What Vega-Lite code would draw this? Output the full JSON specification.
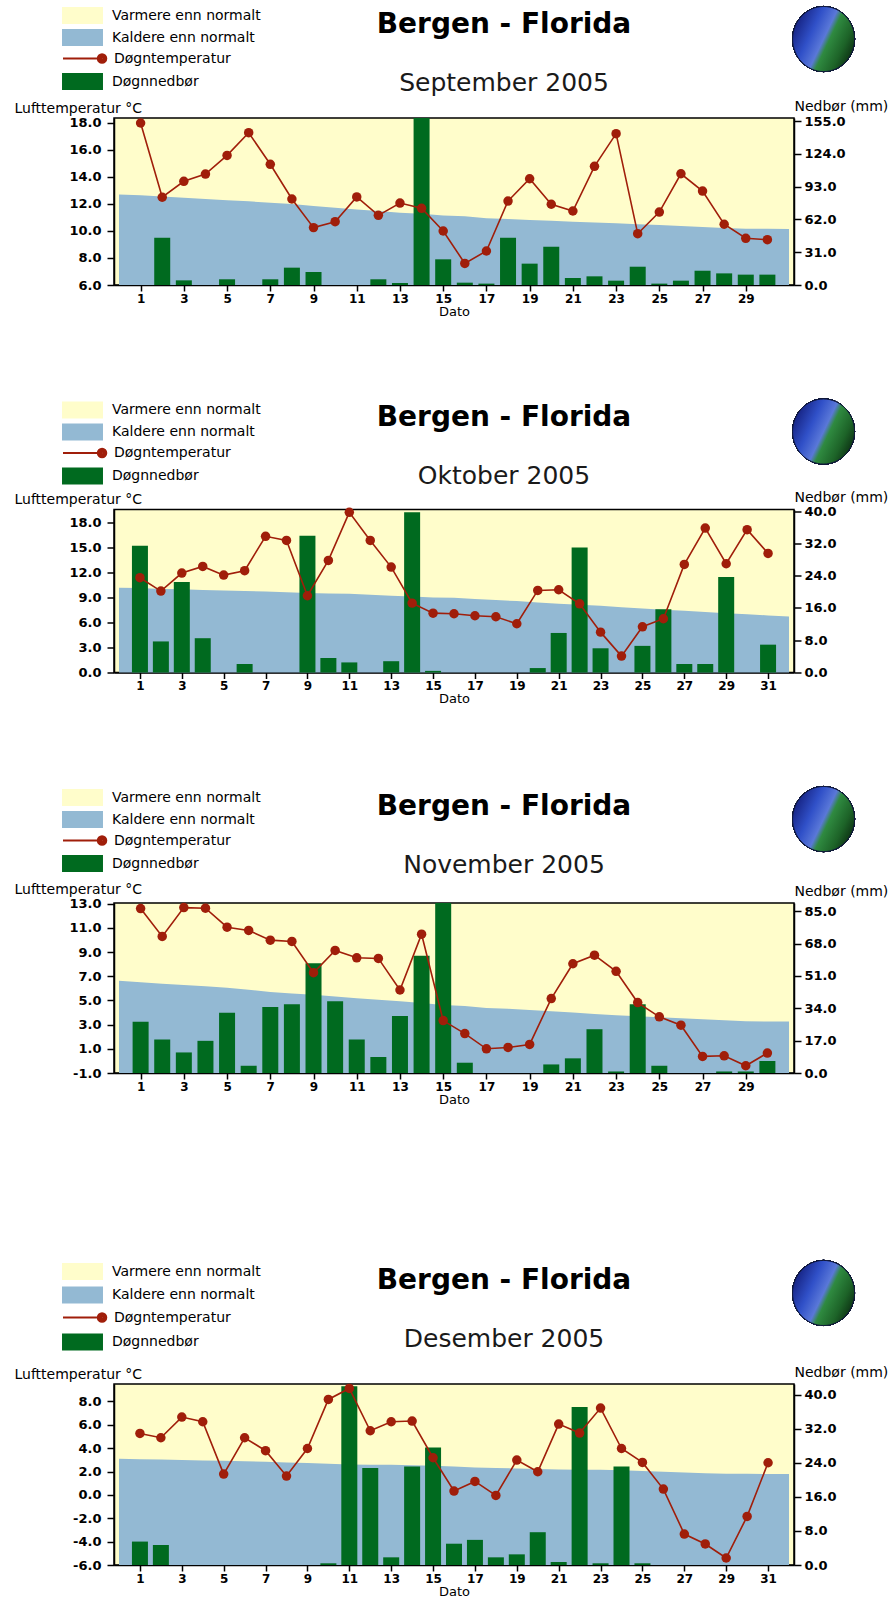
{
  "$schema": "https://vega.github.io/schema/vega-lite/v6.json",
  "padding": {"left": 13, "top": 3, "right": 0, "bottom": 0},
  "background": "#ffffff",
  "datasets": {
    "sep": [
      {"d": 0, "n": 12.7},
      {"d": 1, "n": 12.65, "t": 18.0, "p": 0},
      {"d": 2, "n": 12.55, "t": 12.5, "p": 44.7},
      {"d": 3, "n": 12.47, "t": 13.68, "p": 4.4},
      {"d": 4, "n": 12.37, "t": 14.22, "p": 0},
      {"d": 5, "n": 12.27, "t": 15.6, "p": 5.4},
      {"d": 6, "n": 12.2, "t": 17.28, "p": 0},
      {"d": 7, "n": 12.1, "t": 14.94, "p": 5.4},
      {"d": 8, "n": 12.0, "t": 12.37, "p": 16.4},
      {"d": 9, "n": 11.85, "t": 10.25, "p": 12.3},
      {"d": 10, "n": 11.72, "t": 10.69, "p": 0},
      {"d": 11, "n": 11.6, "t": 12.52, "p": 0},
      {"d": 12, "n": 11.48, "t": 11.16, "p": 5.4},
      {"d": 13, "n": 11.36, "t": 12.07, "p": 1.9},
      {"d": 14, "n": 11.28, "t": 11.68, "p": 158},
      {"d": 15, "n": 11.15, "t": 10.0, "p": 24.3},
      {"d": 16, "n": 11.09, "t": 7.6, "p": 2.2},
      {"d": 17, "n": 10.94, "t": 8.52, "p": 1.3},
      {"d": 18, "n": 10.88, "t": 12.22, "p": 44.7},
      {"d": 19, "n": 10.81, "t": 13.87, "p": 20.2},
      {"d": 20, "n": 10.75, "t": 11.98, "p": 36.2},
      {"d": 21, "n": 10.69, "t": 11.48, "p": 6.6},
      {"d": 22, "n": 10.63, "t": 14.79, "p": 8.2},
      {"d": 23, "n": 10.57, "t": 17.21, "p": 4.1},
      {"d": 24, "n": 10.5, "t": 9.8, "p": 17.3},
      {"d": 25, "n": 10.44, "t": 11.4, "p": 1.3},
      {"d": 26, "n": 10.37, "t": 14.24, "p": 4.1},
      {"d": 27, "n": 10.3, "t": 12.96, "p": 13.5},
      {"d": 28, "n": 10.23, "t": 10.5, "p": 11.0},
      {"d": 29, "n": 10.17, "t": 9.46, "p": 9.8},
      {"d": 30, "n": 10.17, "t": 9.36, "p": 9.8},
      {"d": 31, "n": 10.15}
    ],
    "okt": [
      {"d": 0, "n": 10.15},
      {"d": 1, "n": 10.1, "t": 11.34, "p": 31.4},
      {"d": 2, "n": 10.0, "t": 9.74, "p": 7.7},
      {"d": 3, "n": 9.95, "t": 11.9, "p": 22.4},
      {"d": 4, "n": 9.88, "t": 12.69, "p": 8.5},
      {"d": 5, "n": 9.82, "t": 11.65, "p": 0},
      {"d": 6, "n": 9.76, "t": 12.18, "p": 2.1},
      {"d": 7, "n": 9.7, "t": 16.29, "p": 0},
      {"d": 8, "n": 9.6, "t": 15.8, "p": 0},
      {"d": 9, "n": 9.5, "t": 9.18, "p": 33.9},
      {"d": 10, "n": 9.46, "t": 13.41, "p": 3.6},
      {"d": 11, "n": 9.42, "t": 19.16, "p": 2.5},
      {"d": 12, "n": 9.3, "t": 15.8, "p": 0},
      {"d": 13, "n": 9.18, "t": 12.61, "p": 2.8},
      {"d": 14, "n": 9.08, "t": 8.3, "p": 39.7},
      {"d": 15, "n": 8.98, "t": 7.1, "p": 0.4},
      {"d": 16, "n": 8.94, "t": 7.03, "p": 0},
      {"d": 17, "n": 8.78, "t": 6.79, "p": 0},
      {"d": 18, "n": 8.66, "t": 6.67, "p": 0},
      {"d": 19, "n": 8.54, "t": 5.83, "p": 0},
      {"d": 20, "n": 8.38, "t": 9.82, "p": 1.1},
      {"d": 21, "n": 8.22, "t": 9.9, "p": 9.8},
      {"d": 22, "n": 8.1, "t": 8.22, "p": 31.0},
      {"d": 23, "n": 7.99, "t": 4.83, "p": 6.0},
      {"d": 24, "n": 7.82, "t": 1.96, "p": 0},
      {"d": 25, "n": 7.66, "t": 5.47, "p": 6.6},
      {"d": 26, "n": 7.52, "t": 6.43, "p": 15.7},
      {"d": 27, "n": 7.39, "t": 12.93, "p": 2.1},
      {"d": 28, "n": 7.25, "t": 17.28, "p": 2.1},
      {"d": 29, "n": 7.1, "t": 13.01, "p": 23.7},
      {"d": 30, "n": 6.96, "t": 17.09, "p": 0},
      {"d": 31, "n": 6.83, "t": 14.25, "p": 6.9},
      {"d": 32, "n": 6.71}
    ],
    "nov": [
      {"d": 0, "n": 6.63},
      {"d": 1, "n": 6.5, "t": 12.59, "p": 26.9},
      {"d": 2, "n": 6.38, "t": 10.29, "p": 17.6},
      {"d": 3, "n": 6.27, "t": 12.67, "p": 10.8},
      {"d": 4, "n": 6.16, "t": 12.62, "p": 16.9},
      {"d": 5, "n": 6.05, "t": 11.05, "p": 31.6},
      {"d": 6, "n": 5.88, "t": 10.78, "p": 3.8},
      {"d": 7, "n": 5.7, "t": 9.98, "p": 34.7},
      {"d": 8, "n": 5.58, "t": 9.87, "p": 36.1},
      {"d": 9, "n": 5.47, "t": 7.29, "p": 57.6},
      {"d": 10, "n": 5.32, "t": 9.13, "p": 37.7},
      {"d": 11, "n": 5.18, "t": 8.52, "p": 17.6},
      {"d": 12, "n": 5.05, "t": 8.47, "p": 8.4},
      {"d": 13, "n": 4.93, "t": 5.86, "p": 30.0},
      {"d": 14, "n": 4.78, "t": 10.47, "p": 61.6},
      {"d": 15, "n": 4.63, "t": 3.33, "p": 89.3},
      {"d": 16, "n": 4.54, "t": 2.26, "p": 5.4},
      {"d": 17, "n": 4.38, "t": 1.0, "p": 0},
      {"d": 18, "n": 4.3, "t": 1.11, "p": 0},
      {"d": 19, "n": 4.21, "t": 1.36, "p": 0},
      {"d": 20, "n": 4.1, "t": 5.15, "p": 4.5},
      {"d": 21, "n": 3.99, "t": 8.03, "p": 7.7},
      {"d": 22, "n": 3.88, "t": 8.74, "p": 23.0},
      {"d": 23, "n": 3.78, "t": 7.4, "p": 0.8},
      {"d": 24, "n": 3.7, "t": 4.82, "p": 36.1},
      {"d": 25, "n": 3.61, "t": 3.64, "p": 3.8},
      {"d": 26, "n": 3.53, "t": 2.95, "p": 0},
      {"d": 27, "n": 3.45, "t": 0.37, "p": 0},
      {"d": 28, "n": 3.36, "t": 0.42, "p": 0.8},
      {"d": 29, "n": 3.28, "t": -0.4, "p": 0.8},
      {"d": 30, "n": 3.26, "t": 0.65, "p": 6.3},
      {"d": 31, "n": 3.25}
    ],
    "des": [
      {"d": 0, "n": 3.09},
      {"d": 1, "n": 3.06, "t": 5.26, "p": 5.5},
      {"d": 2, "n": 3.02, "t": 4.89, "p": 4.7},
      {"d": 3, "n": 2.98, "t": 6.66, "p": 0},
      {"d": 4, "n": 2.95, "t": 6.26, "p": 0},
      {"d": 5, "n": 2.92, "t": 1.78, "p": 0},
      {"d": 6, "n": 2.88, "t": 4.89, "p": 0},
      {"d": 7, "n": 2.84, "t": 3.78, "p": 0},
      {"d": 8, "n": 2.78, "t": 1.61, "p": 0},
      {"d": 9, "n": 2.72, "t": 3.97, "p": 0},
      {"d": 10, "n": 2.66, "t": 8.17, "p": 0.4},
      {"d": 11, "n": 2.6, "t": 9.11, "p": 42.0},
      {"d": 12, "n": 2.59, "t": 5.49, "p": 22.8},
      {"d": 13, "n": 2.58, "t": 6.26, "p": 1.8},
      {"d": 14, "n": 2.53, "t": 6.32, "p": 23.1},
      {"d": 15, "n": 2.49, "t": 3.18, "p": 27.6},
      {"d": 16, "n": 2.42, "t": 0.33, "p": 5.0},
      {"d": 17, "n": 2.35, "t": 1.15, "p": 5.9},
      {"d": 18, "n": 2.3, "t": -0.05, "p": 1.8},
      {"d": 19, "n": 2.26, "t": 2.98, "p": 2.5},
      {"d": 20, "n": 2.22, "t": 1.98, "p": 7.7},
      {"d": 21, "n": 2.18, "t": 6.06, "p": 0.7},
      {"d": 22, "n": 2.16, "t": 5.29, "p": 37.1},
      {"d": 23, "n": 2.15, "t": 7.43, "p": 0.4},
      {"d": 24, "n": 2.1, "t": 3.97, "p": 23.1},
      {"d": 25, "n": 2.04, "t": 2.78, "p": 0.4},
      {"d": 26, "n": 1.98, "t": 0.5, "p": 0},
      {"d": 27, "n": 1.92, "t": -3.35, "p": 0},
      {"d": 28, "n": 1.86, "t": -4.2, "p": 0},
      {"d": 29, "n": 1.81, "t": -5.4, "p": 0},
      {"d": 30, "n": 1.8, "t": -1.84, "p": 0},
      {"d": 31, "n": 1.79, "t": 2.75, "p": 0},
      {"d": 32, "n": 1.78}
    ]
  },
  "vconcat": [
    {
      "vconcat": [
        {
          "width": 680, "height": 167,
          "data": {"name": "sep"},
          "title": {"text": "Bergen - Florida", "subtitle": "September 2005", "offset": -92},
          "layer": [
            {
              "mark": {"type": "area", "opacity": 1},
              "encoding": {
                "x": {"field": "d", "type": "quantitative", "scale": {"domain": [0, 31], "nice": false, "zero": false}, "axis": {"values": [1,3,5,7,9,11,13,15,17,19,21,23,25,27,29], "format": "d", "title": "Dato"}},
                "y": {"field": "n", "type": "quantitative", "scale": {"domain": [6, 18.37], "nice": false, "zero": false}, "axis": {"orient": "left", "values": [6,8,10,12,14,16,18], "labelExpr": "(datum.value < 0 ? '-' : '') + format(abs(datum.value), '.1f')", "title": "Lufttemperatur °C", "titleAngle": 0, "titleAlign": "left", "titleBaseline": "middle", "titleX": -100, "titleY": -10, "tickSize": 7, "labelPadding": 6}},
                "y2": {"datum": 6},
                "fill": {"datum": "Kaldere enn normalt", "type": "nominal",
                  "scale": {"domain": ["Varmere enn normalt", "Kaldere enn normalt", " ", "Døgnnedbør"], "range": ["#FFFDCB", "#93B9D3", "transparent", "#006A1F"]},
                  "legend": {"title": null, "orient": "none", "legendX": -40, "legendY": -111, "symbolSize": 289, "symbolType": "M-2.41,-1H2.41V1H-2.41Z", "symbolStrokeWidth": 0, "symbolOpacity": 1, "rowPadding": 5, "labelOffset": 21}}
              }
            },
            {
              "transform": [{"filter": "isValid(datum.p)"}],
              "mark": {"type": "bar", "size": 16},
              "encoding": {
                "x": {"field": "d", "type": "quantitative", "scale": {"domain": [0, 31], "nice": false, "zero": false}, "axis": {"values": [1,3,5,7,9,11,13,15,17,19,21,23,25,27,29], "format": "d", "title": "Dato"}},
                "y": {"field": "p", "type": "quantitative", "scale": {"domain": [0, 158], "nice": false}, "axis": {"orient": "right", "values": [0,31,62,93,124,155], "format": ".1f", "title": "Nedbør (mm)", "titleAngle": 0, "titleAlign": "left", "titleBaseline": "middle", "titleX": 0, "titleY": -12, "tickSize": 7, "labelPadding": 3}},
                "fill": {"datum": "Døgnnedbør", "type": "nominal"}
              }
            },
            {
              "transform": [{"filter": "isValid(datum.t)"}],
              "mark": {"type": "line", "strokeWidth": 1.6},
              "encoding": {
                "x": {"field": "d", "type": "quantitative", "scale": {"domain": [0, 31], "nice": false, "zero": false}, "axis": {"values": [1,3,5,7,9,11,13,15,17,19,21,23,25,27,29], "format": "d", "title": "Dato"}},
                "y": {"field": "t", "type": "quantitative", "scale": {"domain": [6, 18.37], "nice": false, "zero": false}, "axis": null},
                "stroke": {"datum": "Døgntemperatur", "type": "nominal", "scale": {"domain": ["Døgntemperatur"], "range": ["#A01E0A"]},
                  "legend": {"title": null, "orient": "none", "legendX": -40, "legendY": -69, "symbolSize": 289, "symbolType": "M-2.41,0H2.18M2.18,-0.15A0.15,0.15 0 1,1 2.18,0.15A0.15,0.15 0 1,1 2.18,-0.15M2.18,-0.33A0.33,0.33 0 1,1 2.18,0.33A0.33,0.33 0 1,1 2.18,-0.33M2.18,-0.5A0.5,0.5 0 1,1 2.18,0.5A0.5,0.5 0 1,1 2.18,-0.5", "symbolStrokeWidth": 2, "symbolStrokeColor": "#A01E0A", "symbolOpacity": 1, "labelOffset": 21}}
              }
            },
            {
              "transform": [{"filter": "isValid(datum.t)"}],
              "mark": {"type": "point", "filled": true, "size": 90, "opacity": 1, "color": "#A01E0A"},
              "encoding": {
                "x": {"field": "d", "type": "quantitative", "scale": {"domain": [0, 31], "nice": false, "zero": false}, "axis": {"values": [1,3,5,7,9,11,13,15,17,19,21,23,25,27,29], "format": "d", "title": "Dato"}},
                "y": {"field": "t", "type": "quantitative", "scale": {"domain": [6, 18.37], "nice": false, "zero": false}, "axis": null}
              }
            },
            {
              "mark": {"type": "point", "filled": true, "size": 3844, "opacity": 1, "shape": "M-1,0A1,1.05 0 1,0 1,0A1,1.05 0 1,0 -1,0Z", "stroke": "#10183a", "strokeWidth": 1,
                "fill": {"gradient": "linear", "x1": 0, "y1": 0.25, "x2": 1, "y2": 0.75, "stops": [{"offset": 0, "color": "#121c78"}, {"offset": 0.3, "color": "#3050c8"}, {"offset": 0.5, "color": "#5a78d8"}, {"offset": 0.58, "color": "#2f8a40"}, {"offset": 0.8, "color": "#1d6328"}, {"offset": 1, "color": "#0a2a10"}]}},
              "encoding": {
                "x": {"datum": 32.6, "type": "quantitative"},
                "y": {"datum": 24.22, "type": "quantitative", "scale": {"domain": [6, 18.37], "nice": false, "zero": false}, "axis": null}
              }
            }
          ],
          "resolve": {"scale": {"y": "independent"}, "axis": {"y": "independent"}}
        },
        {
          "width": 680, "height": 163,
          "data": {"name": "okt"},
          "title": {"text": "Bergen - Florida", "subtitle": "Oktober 2005", "offset": -92},
          "layer": [
            {
              "mark": {"type": "area", "opacity": 1},
              "encoding": {
                "x": {"field": "d", "type": "quantitative", "scale": {"domain": [0, 32], "nice": false, "zero": false}, "axis": {"values": [1,3,5,7,9,11,13,15,17,19,21,23,25,27,29,31], "format": "d", "title": "Dato"}},
                "y": {"field": "n", "type": "quantitative", "scale": {"domain": [0, 19.5], "nice": false, "zero": false}, "axis": {"orient": "left", "values": [0,3,6,9,12,15,18], "labelExpr": "(datum.value < 0 ? '-' : '') + format(abs(datum.value), '.1f')", "title": "Lufttemperatur °C", "titleAngle": 0, "titleAlign": "left", "titleBaseline": "middle", "titleX": -100, "titleY": -10, "tickSize": 7, "labelPadding": 6}},
                "y2": {"datum": 0},
                "fill": {"datum": "Kaldere enn normalt", "type": "nominal",
                  "scale": {"domain": ["Varmere enn normalt", "Kaldere enn normalt", " ", "Døgnnedbør"], "range": ["#FFFDCB", "#93B9D3", "transparent", "#006A1F"]},
                  "legend": {"title": null, "orient": "none", "legendX": -40, "legendY": -108, "symbolSize": 289, "symbolType": "M-2.41,-1H2.41V1H-2.41Z", "symbolStrokeWidth": 0, "symbolOpacity": 1, "rowPadding": 5, "labelOffset": 21}}
              }
            },
            {
              "transform": [{"filter": "isValid(datum.p)"}],
              "mark": {"type": "bar", "size": 16},
              "encoding": {
                "x": {"field": "d", "type": "quantitative", "scale": {"domain": [0, 32], "nice": false, "zero": false}, "axis": {"values": [1,3,5,7,9,11,13,15,17,19,21,23,25,27,29,31], "format": "d", "title": "Dato"}},
                "y": {"field": "p", "type": "quantitative", "scale": {"domain": [0, 40.4], "nice": false}, "axis": {"orient": "right", "values": [0,8,16,24,32,40], "format": ".1f", "title": "Nedbør (mm)", "titleAngle": 0, "titleAlign": "left", "titleBaseline": "middle", "titleX": 0, "titleY": -12, "tickSize": 7, "labelPadding": 3}},
                "fill": {"datum": "Døgnnedbør", "type": "nominal"}
              }
            },
            {
              "transform": [{"filter": "isValid(datum.t)"}],
              "mark": {"type": "line", "strokeWidth": 1.6},
              "encoding": {
                "x": {"field": "d", "type": "quantitative", "scale": {"domain": [0, 32], "nice": false, "zero": false}, "axis": {"values": [1,3,5,7,9,11,13,15,17,19,21,23,25,27,29,31], "format": "d", "title": "Dato"}},
                "y": {"field": "t", "type": "quantitative", "scale": {"domain": [0, 19.5], "nice": false, "zero": false}, "axis": null},
                "stroke": {"datum": "Døgntemperatur", "type": "nominal", "scale": {"domain": ["Døgntemperatur"], "range": ["#A01E0A"]},
                  "legend": {"title": null, "orient": "none", "legendX": -40, "legendY": -66, "symbolSize": 289, "symbolType": "M-2.41,0H2.18M2.18,-0.15A0.15,0.15 0 1,1 2.18,0.15A0.15,0.15 0 1,1 2.18,-0.15M2.18,-0.33A0.33,0.33 0 1,1 2.18,0.33A0.33,0.33 0 1,1 2.18,-0.33M2.18,-0.5A0.5,0.5 0 1,1 2.18,0.5A0.5,0.5 0 1,1 2.18,-0.5", "symbolStrokeWidth": 2, "symbolStrokeColor": "#A01E0A", "symbolOpacity": 1, "labelOffset": 21}}
              }
            },
            {
              "transform": [{"filter": "isValid(datum.t)"}],
              "mark": {"type": "point", "filled": true, "size": 90, "opacity": 1, "color": "#A01E0A"},
              "encoding": {
                "x": {"field": "d", "type": "quantitative", "scale": {"domain": [0, 32], "nice": false, "zero": false}, "axis": {"values": [1,3,5,7,9,11,13,15,17,19,21,23,25,27,29,31], "format": "d", "title": "Dato"}},
                "y": {"field": "t", "type": "quantitative", "scale": {"domain": [0, 19.5], "nice": false, "zero": false}, "axis": null}
              }
            },
            {
              "mark": {"type": "point", "filled": true, "size": 3844, "opacity": 1, "shape": "M-1,0A1,1.05 0 1,0 1,0A1,1.05 0 1,0 -1,0Z", "stroke": "#10183a", "strokeWidth": 1,
                "fill": {"gradient": "linear", "x1": 0, "y1": 0.25, "x2": 1, "y2": 0.75, "stops": [{"offset": 0, "color": "#121c78"}, {"offset": 0.3, "color": "#3050c8"}, {"offset": 0.5, "color": "#5a78d8"}, {"offset": 0.58, "color": "#2f8a40"}, {"offset": 0.8, "color": "#1d6328"}, {"offset": 1, "color": "#0a2a10"}]}},
              "encoding": {
                "x": {"datum": 33.65, "type": "quantitative"},
                "y": {"datum": 28.83, "type": "quantitative", "scale": {"domain": [0, 19.5], "nice": false, "zero": false}, "axis": null}
              }
            }
          ],
          "resolve": {"scale": {"y": "independent"}, "axis": {"y": "independent"}}
        },
        {
          "width": 680, "height": 170,
          "data": {"name": "nov"},
          "title": {"text": "Bergen - Florida", "subtitle": "November 2005", "offset": -94},
          "layer": [
            {
              "mark": {"type": "area", "opacity": 1},
              "encoding": {
                "x": {"field": "d", "type": "quantitative", "scale": {"domain": [0, 31], "nice": false, "zero": false}, "axis": {"values": [1,3,5,7,9,11,13,15,17,19,21,23,25,27,29], "format": "d", "title": "Dato"}},
                "y": {"field": "n", "type": "quantitative", "scale": {"domain": [-1, 13.05], "nice": false, "zero": false}, "axis": {"orient": "left", "values": [-1,1,3,5,7,9,11,13], "labelExpr": "(datum.value < 0 ? '-' : '') + format(abs(datum.value), '.1f')", "title": "Lufttemperatur °C", "titleAngle": 0, "titleAlign": "left", "titleBaseline": "middle", "titleX": -100, "titleY": -14, "tickSize": 7, "labelPadding": 6}},
                "y2": {"datum": -1},
                "fill": {"datum": "Kaldere enn normalt", "type": "nominal",
                  "scale": {"domain": ["Varmere enn normalt", "Kaldere enn normalt", " ", "Døgnnedbør"], "range": ["#FFFDCB", "#93B9D3", "transparent", "#006A1F"]},
                  "legend": {"title": null, "orient": "none", "legendX": -40, "legendY": -114, "symbolSize": 289, "symbolType": "M-2.41,-1H2.41V1H-2.41Z", "symbolStrokeWidth": 0, "symbolOpacity": 1, "rowPadding": 5, "labelOffset": 21}}
              }
            },
            {
              "transform": [{"filter": "isValid(datum.p)"}],
              "mark": {"type": "bar", "size": 16},
              "encoding": {
                "x": {"field": "d", "type": "quantitative", "scale": {"domain": [0, 31], "nice": false, "zero": false}, "axis": {"values": [1,3,5,7,9,11,13,15,17,19,21,23,25,27,29], "format": "d", "title": "Dato"}},
                "y": {"field": "p", "type": "quantitative", "scale": {"domain": [0, 89.3], "nice": false}, "axis": {"orient": "right", "values": [0,17,34,51,68,85], "format": ".1f", "title": "Nedbør (mm)", "titleAngle": 0, "titleAlign": "left", "titleBaseline": "middle", "titleX": 0, "titleY": -12, "tickSize": 7, "labelPadding": 3}},
                "fill": {"datum": "Døgnnedbør", "type": "nominal"}
              }
            },
            {
              "transform": [{"filter": "isValid(datum.t)"}],
              "mark": {"type": "line", "strokeWidth": 1.6},
              "encoding": {
                "x": {"field": "d", "type": "quantitative", "scale": {"domain": [0, 31], "nice": false, "zero": false}, "axis": {"values": [1,3,5,7,9,11,13,15,17,19,21,23,25,27,29], "format": "d", "title": "Dato"}},
                "y": {"field": "t", "type": "quantitative", "scale": {"domain": [-1, 13.05], "nice": false, "zero": false}, "axis": null},
                "stroke": {"datum": "Døgntemperatur", "type": "nominal", "scale": {"domain": ["Døgntemperatur"], "range": ["#A01E0A"]},
                  "legend": {"title": null, "orient": "none", "legendX": -40, "legendY": -72, "symbolSize": 289, "symbolType": "M-2.41,0H2.18M2.18,-0.15A0.15,0.15 0 1,1 2.18,0.15A0.15,0.15 0 1,1 2.18,-0.15M2.18,-0.33A0.33,0.33 0 1,1 2.18,0.33A0.33,0.33 0 1,1 2.18,-0.33M2.18,-0.5A0.5,0.5 0 1,1 2.18,0.5A0.5,0.5 0 1,1 2.18,-0.5", "symbolStrokeWidth": 2, "symbolStrokeColor": "#A01E0A", "symbolOpacity": 1, "labelOffset": 21}}
              }
            },
            {
              "transform": [{"filter": "isValid(datum.t)"}],
              "mark": {"type": "point", "filled": true, "size": 90, "opacity": 1, "color": "#A01E0A"},
              "encoding": {
                "x": {"field": "d", "type": "quantitative", "scale": {"domain": [0, 31], "nice": false, "zero": false}, "axis": {"values": [1,3,5,7,9,11,13,15,17,19,21,23,25,27,29], "format": "d", "title": "Dato"}},
                "y": {"field": "t", "type": "quantitative", "scale": {"domain": [-1, 13.05], "nice": false, "zero": false}, "axis": null}
              }
            },
            {
              "mark": {"type": "point", "filled": true, "size": 3844, "opacity": 1, "shape": "M-1,0A1,1.05 0 1,0 1,0A1,1.05 0 1,0 -1,0Z", "stroke": "#10183a", "strokeWidth": 1,
                "fill": {"gradient": "linear", "x1": 0, "y1": 0.25, "x2": 1, "y2": 0.75, "stops": [{"offset": 0, "color": "#121c78"}, {"offset": 0.3, "color": "#3050c8"}, {"offset": 0.5, "color": "#5a78d8"}, {"offset": 0.58, "color": "#2f8a40"}, {"offset": 0.8, "color": "#1d6328"}, {"offset": 1, "color": "#0a2a10"}]}},
              "encoding": {
                "x": {"datum": 32.6, "type": "quantitative"},
                "y": {"datum": 19.99, "type": "quantitative", "scale": {"domain": [-1, 13.05], "nice": false, "zero": false}, "axis": null}
              }
            }
          ],
          "resolve": {"scale": {"y": "independent"}, "axis": {"y": "independent"}}
        }
      ],
      "spacing": 76.5,
      "resolve": {"scale": {"fill": "independent", "stroke": "independent", "x": "independent"}, "legend": {"fill": "independent", "stroke": "independent"}}
    },
    {
      "width": 680, "height": 181,
      "data": {"name": "des"},
      "title": {"text": "Bergen - Florida", "subtitle": "Desember 2005", "offset": -94},
      "layer": [
        {
          "mark": {"type": "area", "opacity": 1},
          "encoding": {
            "x": {"field": "d", "type": "quantitative", "scale": {"domain": [0, 32], "nice": false, "zero": false}, "axis": {"values": [1,3,5,7,9,11,13,15,17,19,21,23,25,27,29,31], "format": "d", "title": "Dato"}},
            "y": {"field": "n", "type": "quantitative", "scale": {"domain": [-6, 9.49], "nice": false, "zero": false}, "axis": {"orient": "left", "values": [-6,-4,-2,0,2,4,6,8], "labelExpr": "(datum.value < 0 ? '-' : '') + format(abs(datum.value), '.1f')", "title": "Lufttemperatur °C", "titleAngle": 0, "titleAlign": "left", "titleBaseline": "middle", "titleX": -100, "titleY": -10, "tickSize": 7, "labelPadding": 6}},
            "y2": {"datum": -6},
            "fill": {"datum": "Kaldere enn normalt", "type": "nominal",
              "scale": {"domain": ["Varmere enn normalt", "Kaldere enn normalt", " ", "Døgnnedbør"], "range": ["#FFFDCB", "#93B9D3", "transparent", "#006A1F"]},
              "legend": {"title": null, "orient": "none", "legendX": -40, "legendY": -121, "symbolSize": 289, "symbolType": "M-2.41,-1H2.41V1H-2.41Z", "symbolStrokeWidth": 0, "symbolOpacity": 1, "rowPadding": 6.5, "labelOffset": 21}}
          }
        },
        {
          "transform": [{"filter": "isValid(datum.p)"}],
          "mark": {"type": "bar", "size": 16},
          "encoding": {
            "x": {"field": "d", "type": "quantitative", "scale": {"domain": [0, 32], "nice": false, "zero": false}, "axis": {"values": [1,3,5,7,9,11,13,15,17,19,21,23,25,27,29,31], "format": "d", "title": "Dato"}},
            "y": {"field": "p", "type": "quantitative", "scale": {"domain": [0, 42.5], "nice": false}, "axis": {"orient": "right", "values": [0,8,16,24,32,40], "format": ".1f", "title": "Nedbør (mm)", "titleAngle": 0, "titleAlign": "left", "titleBaseline": "middle", "titleX": 0, "titleY": -12, "tickSize": 7, "labelPadding": 3}},
            "fill": {"datum": "Døgnnedbør", "type": "nominal"}
          }
        },
        {
          "transform": [{"filter": "isValid(datum.t)"}],
          "mark": {"type": "line", "strokeWidth": 1.6},
          "encoding": {
            "x": {"field": "d", "type": "quantitative", "scale": {"domain": [0, 32], "nice": false, "zero": false}, "axis": {"values": [1,3,5,7,9,11,13,15,17,19,21,23,25,27,29,31], "format": "d", "title": "Dato"}},
            "y": {"field": "t", "type": "quantitative", "scale": {"domain": [-6, 9.49], "nice": false, "zero": false}, "axis": null},
            "stroke": {"datum": "Døgntemperatur", "type": "nominal", "scale": {"domain": ["Døgntemperatur"], "range": ["#A01E0A"]},
              "legend": {"title": null, "orient": "none", "legendX": -40, "legendY": -76, "symbolSize": 289, "symbolType": "M-2.41,0H2.18M2.18,-0.15A0.15,0.15 0 1,1 2.18,0.15A0.15,0.15 0 1,1 2.18,-0.15M2.18,-0.33A0.33,0.33 0 1,1 2.18,0.33A0.33,0.33 0 1,1 2.18,-0.33M2.18,-0.5A0.5,0.5 0 1,1 2.18,0.5A0.5,0.5 0 1,1 2.18,-0.5", "symbolStrokeWidth": 2, "symbolStrokeColor": "#A01E0A", "symbolOpacity": 1, "labelOffset": 21}}
          }
        },
        {
          "transform": [{"filter": "isValid(datum.t)"}],
          "mark": {"type": "point", "filled": true, "size": 90, "opacity": 1, "color": "#A01E0A"},
          "encoding": {
            "x": {"field": "d", "type": "quantitative", "scale": {"domain": [0, 32], "nice": false, "zero": false}, "axis": {"values": [1,3,5,7,9,11,13,15,17,19,21,23,25,27,29,31], "format": "d", "title": "Dato"}},
            "y": {"field": "t", "type": "quantitative", "scale": {"domain": [-6, 9.49], "nice": false, "zero": false}, "axis": null}
          }
        },
        {
          "mark": {"type": "point", "filled": true, "size": 3844, "opacity": 1, "shape": "M-1,0A1,1.05 0 1,0 1,0A1,1.05 0 1,0 -1,0Z", "stroke": "#10183a", "strokeWidth": 1,
            "fill": {"gradient": "linear", "x1": 0, "y1": 0.25, "x2": 1, "y2": 0.75, "stops": [{"offset": 0, "color": "#121c78"}, {"offset": 0.3, "color": "#3050c8"}, {"offset": 0.5, "color": "#5a78d8"}, {"offset": 0.58, "color": "#2f8a40"}, {"offset": 0.8, "color": "#1d6328"}, {"offset": 1, "color": "#0a2a10"}]}},
          "encoding": {
            "x": {"datum": 33.65, "type": "quantitative"},
            "y": {"datum": 17.28, "type": "quantitative", "scale": {"domain": [-6, 9.49], "nice": false, "zero": false}, "axis": null}
          }
        }
      ],
      "resolve": {"scale": {"y": "independent"}, "axis": {"y": "independent"}}
    }
  ],
  "spacing": 150,
  "resolve": {"scale": {"fill": "independent", "stroke": "independent", "x": "independent"}, "legend": {"fill": "independent", "stroke": "independent"}},
  "config": {
    "font": "DejaVu Sans",
    "view": {"fill": "#FFFDCB", "stroke": "#000000", "strokeWidth": 1.5},
    "axis": {"domainColor": "#000000", "domainWidth": 1.5, "tickColor": "#000000", "tickWidth": 1.5, "tickSize": 6, "labelFont": "DejaVu Sans", "labelFontSize": 13, "labelFontWeight": "bold", "labelColor": "#000000", "labelPadding": 3, "titleFont": "DejaVu Sans", "titleFontSize": 14, "titleFontWeight": "normal", "titleColor": "#000000", "titlePadding": 0, "grid": false},
    "axisX": {"labelFontSize": 12, "labelPadding": 2, "titleFontSize": 13, "titlePadding": 1},
    "legend": {"padding": 0, "labelFont": "DejaVu Sans", "labelFontSize": 14, "labelColor": "#000000", "labelLimit": 300},
    "title": {"anchor": "middle", "frame": "group", "dx": 50, "font": "DejaVu Sans", "fontSize": 28, "fontWeight": "bold", "color": "#000000", "subtitleFont": "DejaVu Sans", "subtitleFontSize": 25, "subtitleColor": "#1a1a1a", "subtitlePadding": 32}
  }
}
